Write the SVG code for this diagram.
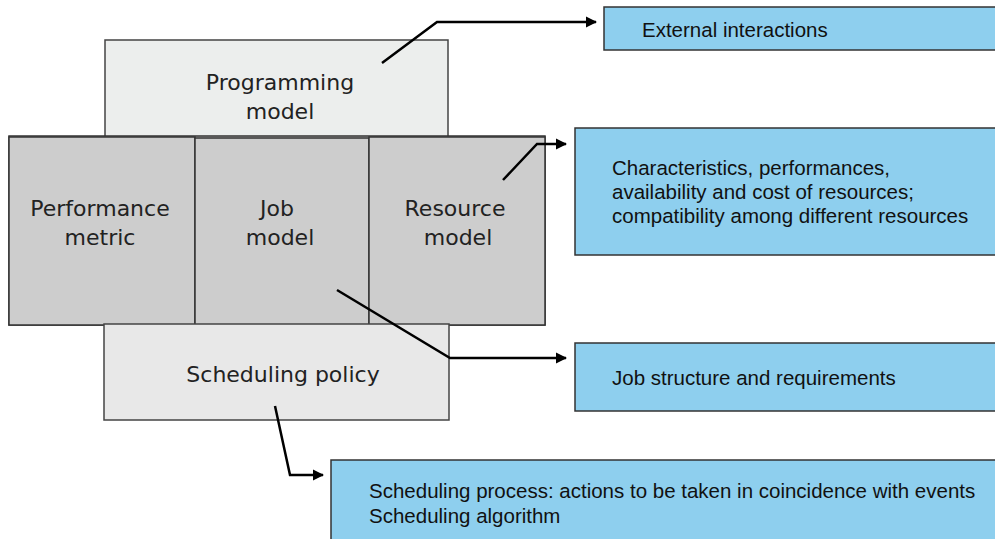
<svg xmlns="http://www.w3.org/2000/svg" width="995" height="539" viewBox="0 0 995 539">
  <style>
    .light { fill: #eceeed; stroke: #444; stroke-width: 1.5; }
    .grey { fill: #cdcdcd; stroke: #333; stroke-width: 1.5; }
    .blue { fill: #8ecfee; stroke: #333; stroke-width: 1.5; }
    .model { font-family: "DejaVu Sans", "Liberation Sans", sans-serif; font-size: 22px; fill: #222; text-anchor: middle; }
    .note { font-family: "Liberation Sans", Arial, sans-serif; font-size: 20.5px; fill: #111; }
    .link { fill: none; stroke: #000; stroke-width: 2.5; marker-end: url(#arrow); }
  </style>
  <defs>
    <marker id="arrow" viewBox="0 0 10 10" refX="9" refY="5" markerWidth="4.5" markerHeight="4.5" orient="auto" markerUnits="strokeWidth">
      <path d="M0,0 L10,5 L0,10 Z" fill="#000"/>
    </marker>
  </defs>
  <rect width="995" height="539" fill="#fff"/>

  <g id="programming-model">
    <rect class="light" x="105" y="40" width="343" height="97"/>
    <text class="model" x="280" y="90">Programming</text>
    <text class="model" x="280" y="119">model</text>
  </g>

  <g id="core">
    <rect class="grey" x="9" y="136" width="536" height="189"/>
  </g>
  <g id="performance-metric">
    <rect class="grey" x="9" y="137" width="186" height="188"/>
    <text class="model" x="100" y="216">Performance</text>
    <text class="model" x="100" y="245">metric</text>
  </g>
  <g id="job-model">
    <rect class="grey" x="195" y="138" width="174" height="187"/>
    <text class="model" x="277" y="216">Job</text>
    <text class="model" x="280" y="245">model</text>
  </g>
  <g id="resource-model">
    <rect class="grey" x="369" y="137" width="176" height="188"/>
    <text class="model" x="455" y="216">Resource</text>
    <text class="model" x="458" y="245">model</text>
  </g>

  <g id="scheduling-policy">
    <rect fill="#e8e8e8" stroke="#444" stroke-width="1.5" x="104" y="324" width="345" height="96"/>
    <text class="model" x="283" y="382">Scheduling policy</text>
  </g>

  <g id="external-interactions">
    <rect class="blue" x="604" y="7" width="395" height="43"/>
    <text class="note" x="642" y="37">External interactions</text>
  </g>
  <g id="resource-notes">
    <rect class="blue" x="575" y="128" width="424" height="127"/>
    <text class="note" x="612" y="175">Characteristics, performances,</text>
    <text class="note" x="612" y="199">availability and cost of resources;</text>
    <text class="note" x="612" y="223">compatibility among different resources</text>
  </g>
  <g id="job-notes">
    <rect class="blue" x="575" y="343" width="424" height="68"/>
    <text class="note" x="612" y="385">Job structure and requirements</text>
  </g>
  <g id="scheduling-notes">
    <rect class="blue" x="331" y="460" width="668" height="85"/>
    <text class="note" x="369" y="498">Scheduling process: actions to be taken in coincidence with events</text>
    <text class="note" x="369" y="523">Scheduling algorithm</text>
  </g>

  <g id="connectors">
    <polyline class="link" points="382,63 437,22 596,22"/>
    <polyline class="link" points="503,180 537,144 566,144"/>
    <polyline class="link" points="337,290 450,358 566,358"/>
    <polyline class="link" points="275,406 290,475 323,475"/>
  </g>
</svg>
